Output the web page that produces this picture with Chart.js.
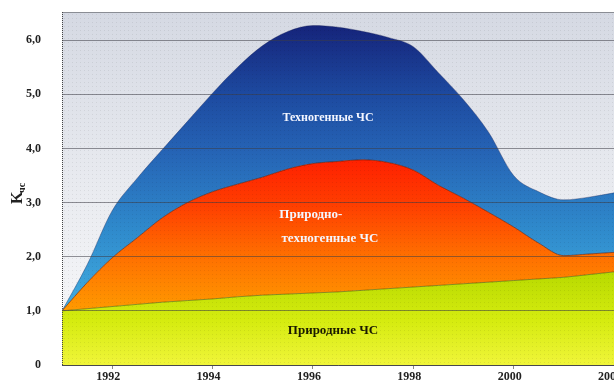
<!DOCTYPE html>
<html>
<head>
<meta charset="utf-8">
<script src="https://cdn.jsdelivr.net/npm/chart.js@4/dist/chart.umd.min.js"></script>
<style>
  html, body { margin: 0; padding: 0; background: #fff; }
  #wrap { width: 614px; height: 384px; }
</style>
</head>
<body>
<div id="wrap"><canvas id="chart"></canvas></div>
<script>
// years sampled every half year
const years = [1991, 1991.5, 1992, 1992.5, 1993, 1993.5, 1994, 1994.5, 1995, 1995.5, 1996, 1996.5,
  1997, 1997.5, 1998, 1998.5, 1999, 1999.5, 2000, 2000.5, 2001, 2001.5, 2002];

// upper edge of each band (cumulative K_чс levels)
const levelNatural = [1.0, 1.04, 1.08, 1.12, 1.16, 1.19, 1.22, 1.26, 1.29, 1.31, 1.33, 1.35,
  1.38, 1.41, 1.44, 1.47, 1.5, 1.53, 1.56, 1.59, 1.62, 1.67, 1.72];
const levelNatTech = [1.0, 1.52, 1.98, 2.35, 2.72, 3.0, 3.2, 3.34, 3.47, 3.62, 3.72, 3.76,
  3.79, 3.74, 3.6, 3.32, 3.08, 2.82, 2.55, 2.25, 2.02, 2.05, 2.08];
const levelTotal = [1.0, 1.85, 2.85, 3.45, 3.98, 4.5, 5.02, 5.5, 5.9, 6.16, 6.27, 6.24,
  6.16, 6.05, 5.88, 5.4, 4.9, 4.3, 3.5, 3.2, 3.05, 3.1, 3.18];

const bandNames = ['Природные ЧС', 'Природно-техногенные ЧС', 'Техногенные ЧС'];
const yTicks = [0, 1, 2, 3, 4, 5, 6];

const serif = '"Liberation Serif", "DejaVu Serif", serif';

function toPoints(levels) {
  return years.map((y, i) => ({ x: y, y: levels[i] }));
}

// vertical gradient bound to axis values
function valueGradient(stops) {
  return (ctx) => {
    const chart = ctx.chart;
    if (!chart.chartArea) return null;
    const yScale = chart.scales.y;
    const g = chart.ctx.createLinearGradient(0, yScale.getPixelForValue(0), 0, yScale.getPixelForValue(6.5));
    stops.forEach(([v, c]) => g.addColorStop(v / 6.5, c));
    return g;
  };
}

const bgPlugin = {
  id: 'bg',
  beforeDraw(chart) {
    const { ctx, chartArea: a } = chart;
    ctx.save();
    const g = ctx.createLinearGradient(0, a.top, 0, a.bottom);
    g.addColorStop(0, '#d5d9e3');
    g.addColorStop(0.5, '#e9ebf0');
    g.addColorStop(1, '#fafafb');
    ctx.fillStyle = g;
    ctx.fillRect(a.left, a.top, a.right - a.left, a.bottom - a.top);
    ctx.restore();
  },
  afterDraw(chart) {
    const { ctx, chartArea: a } = chart;
    ctx.save();
    // faint halftone dots like the printed original
    ctx.fillStyle = 'rgba(0,0,0,0.07)';
    for (let y = a.top + 2; y < a.bottom; y += 4) {
      for (let x = a.left + 2; x < a.right; x += 4) {
        ctx.fillRect(x, y, 1, 1);
      }
    }
    ctx.strokeStyle = '#8a8d94';
    ctx.lineWidth = 1;
    ctx.beginPath();
    ctx.moveTo(a.left, a.top + 0.5);
    ctx.lineTo(a.right, a.top + 0.5);
    ctx.stroke();
    ctx.strokeStyle = '#444';
    ctx.setLineDash([1, 1]);
    ctx.beginPath();
    ctx.moveTo(a.left + 0.5, a.top);
    ctx.lineTo(a.left + 0.5, a.bottom);
    ctx.stroke();
    ctx.restore();
  }
};

const labelPlugin = {
  id: 'labels',
  afterDraw(chart) {
    const { ctx, scales } = chart;
    const px = (x, y) => [scales.x.getPixelForValue(x), scales.y.getPixelForValue(y)];
    ctx.save();
    ctx.textAlign = 'center';
    ctx.textBaseline = 'middle';
    ctx.font = 'bold 12px ' + serif;
    ctx.fillStyle = '#f4f6ff';
    let p = px(1996.3, 4.56);
    ctx.fillText(bandNames[2], p[0], p[1]);
    ctx.font = 'bold 13px ' + serif;
    p = px(1995.96, 2.77);
    ctx.fillText('Природно-', p[0], p[1]);
    p = px(1996.34, 2.34);
    ctx.fillText('техногенные ЧС', p[0], p[1]);
    ctx.fillStyle = '#1a1a00';
    p = px(1996.4, 0.63);
    ctx.fillText(bandNames[0], p[0], p[1]);

    // axis title K with subscript
    ctx.translate(17, 195);
    ctx.rotate(-Math.PI / 2);
    ctx.textAlign = 'left';
    ctx.textBaseline = 'alphabetic';
    ctx.fillStyle = '#222';
    ctx.font = 'bold 16px ' + serif;
    ctx.fillText('K', -9, 5);
    ctx.font = 'bold 10px ' + serif;
    ctx.fillText('чс', 2, 8);
    ctx.restore();
  }
};

new Chart(document.getElementById('chart'), {
  type: 'line',
  data: {
    datasets: [
      {
        label: bandNames[0],
        data: toPoints(levelNatural),
        fill: 'origin',
        backgroundColor: valueGradient([[0, '#f0f53a'], [0.8, '#d6ec10'], [1.7, '#b8da00']]),
        borderColor: 'rgba(70,80,0,0.55)',
        borderWidth: 1
      },
      {
        label: bandNames[1],
        data: toPoints(levelNatTech),
        fill: '-1',
        backgroundColor: valueGradient([[1.0, '#ff9a00'], [2.0, '#ff7000'], [3.0, '#ff3c00'], [3.8, '#ff2000']]),
        borderColor: 'rgba(90,20,0,0.6)',
        borderWidth: 1
      },
      {
        label: bandNames[2],
        data: toPoints(levelTotal),
        fill: '-1',
        backgroundColor: valueGradient([[1.0, '#42aee0'], [2.5, '#2f8acc'], [4.0, '#2562b4'], [5.0, '#1d4aa0'], [6.3, '#15237a']]),
        borderColor: 'rgba(20,30,80,0.35)',
        borderWidth: 1
      }
    ]
  },
  options: {
    responsive: true,
    maintainAspectRatio: false,
    animation: false,
    layout: { padding: { top: 12, left: 0, right: 0, bottom: 0 } },
    elements: {
      point: { radius: 0 },
      line: { cubicInterpolationMode: 'monotone' }
    },
    plugins: {
      legend: { display: false },
      tooltip: { enabled: false }
    },
    scales: {
      x: {
        type: 'linear',
        min: 1991,
        max: 2002,
        ticks: {
          stepSize: 2,
          includeBounds: false,
          padding: 1,
          labelOffset: -4,
          color: '#222',
          font: { family: serif, size: 12, weight: 'bold' },
          callback: (v) => String(v),
          maxRotation: 0
        },
        grid: { drawOnChartArea: false, drawTicks: true, tickLength: 4, color: '#888' },
        border: { display: true, color: '#555', width: 1 },
        afterFit(scale) {
          scale.height = 19;
          scale.paddingLeft = 0;
          scale.paddingRight = 0;
        }
      },
      y: {
        min: 0,
        max: 6.52,
        afterBuildTicks(scale) {
          scale.ticks = yTicks.map((v) => ({ value: v }));
        },
        ticks: {
          includeBounds: false,
          padding: 21,
          color: '#222',
          font: { family: serif, size: 12, weight: 'bold' },
          callback: (v) => (v === 0 ? '0' : v.toFixed(1).replace('.', ','))
        },
        grid: { drawTicks: false, color: 'rgba(60,60,70,0.55)', lineWidth: 1, z: 1 },
        border: { display: false },
        afterFit(scale) {
          scale.width = 62;
          scale.paddingTop = 0;
          scale.paddingBottom = 0;
        }
      }
    }
  },
  plugins: [bgPlugin, labelPlugin]
});
</script>
</body>
</html>
